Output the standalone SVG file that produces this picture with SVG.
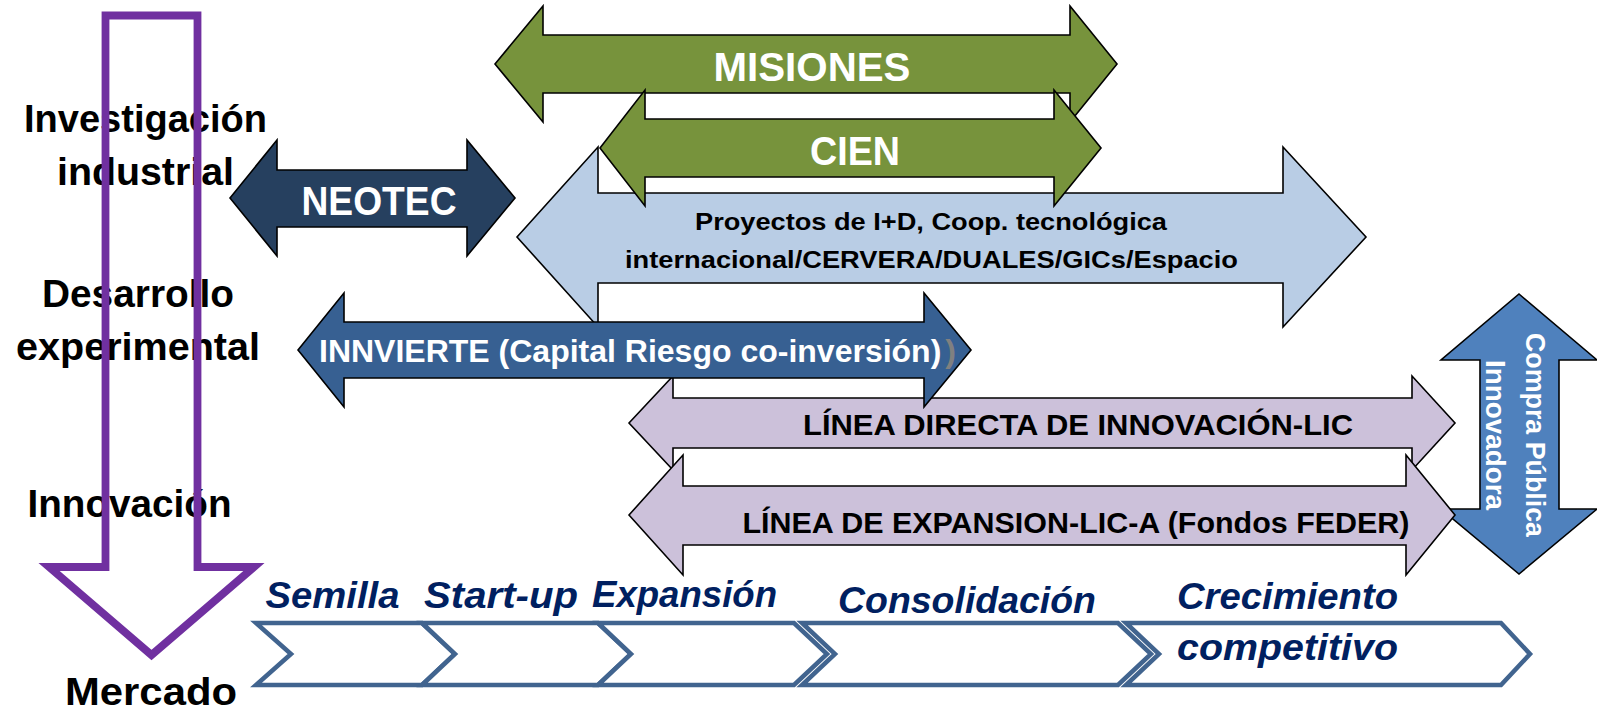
<svg xmlns="http://www.w3.org/2000/svg" width="1597" height="710" viewBox="0 0 1597 710">
<style>
.arr{stroke:#000;stroke-width:1.6;stroke-linejoin:miter}
.green{fill:#77933C}
.navy{fill:#26405F}
.lblue{fill:#B9CDE5}
.mblue{fill:#376092}
.lilac{fill:#CCC1DA}
.cblue{fill:#4F81BD}
.lbl{font-family:"Liberation Sans",Arial,sans-serif;font-weight:bold;fill:#000;font-size:39px;text-anchor:middle}
.wt{font-family:"Liberation Sans",Arial,sans-serif;font-weight:bold;fill:#fff;text-anchor:middle}
.bt{font-family:"Liberation Sans",Arial,sans-serif;font-weight:bold;fill:#000;text-anchor:middle}
.stage{font-family:"Liberation Sans",Arial,sans-serif;font-weight:bold;font-style:italic;fill:#002060;font-size:36px}
.chev{fill:#fff;stroke:#41648F;stroke-width:4.5;stroke-linejoin:miter}
</style>
<rect width="1597" height="710" fill="#fff"/>

<g id="labels">
<text class="lbl" x="145.5" y="132" textLength="243" lengthAdjust="spacingAndGlyphs">Investigación</text>
<text class="lbl" x="145.5" y="185" textLength="177" lengthAdjust="spacingAndGlyphs">industrial</text>
<text class="lbl" x="138" y="307" textLength="192" lengthAdjust="spacingAndGlyphs">Desarrollo</text>
<text class="lbl" x="138" y="360" textLength="244" lengthAdjust="spacingAndGlyphs">experimental</text>
<text class="lbl" x="129.5" y="517" textLength="204" lengthAdjust="spacingAndGlyphs">Innovación</text>
<text class="lbl" x="151" y="705" textLength="172" lengthAdjust="spacingAndGlyphs">Mercado</text>
</g>

<g id="purple-arrow">
<polygon points="105.5,15.5 197.5,15.5 197.5,567 254,567 151.5,655 49,567 105.5,567" fill="none" stroke="#7030A0" stroke-width="7.8" stroke-linejoin="miter"/>
</g>

<g id="stages">
<polygon class="chev" points="256,623 422,623 455,654 422,685 256,685 291,654"/>
<polygon class="chev" points="422,623 598,623 631,654 598,685 422,685 455,654"/>
<polygon class="chev" points="598,623 794,623 827,654 794,685 598,685 631,654"/>
<polygon class="chev" points="802,623 1118,623 1151,654 1118,685 802,685 835,654"/>
<polygon class="chev" points="1126,623 1501,623 1530,654 1501,685 1126,685 1159,654"/>
<text class="stage" x="265.5" y="608" textLength="134" lengthAdjust="spacingAndGlyphs">Semilla</text>
<text class="stage" x="424" y="608" textLength="154" lengthAdjust="spacingAndGlyphs">Start-up</text>
<text class="stage" x="592" y="607" textLength="185" lengthAdjust="spacingAndGlyphs">Expansión</text>
<text class="stage" x="838" y="613" textLength="258" lengthAdjust="spacingAndGlyphs">Consolidación</text>
<text class="stage" x="1177" y="609" textLength="221" lengthAdjust="spacingAndGlyphs">Crecimiento</text>
<text class="stage" x="1177" y="660" textLength="221" lengthAdjust="spacingAndGlyphs">competitivo</text>
</g>

<g id="misiones">
<polygon class="arr green" points="495,64 543,6 543,35 1070,35 1070,6 1117,64 1070,122 1070,93 543,93 543,122"/>
<text class="wt" x="812" y="81" font-size="40" textLength="197" lengthAdjust="spacingAndGlyphs">MISIONES</text>
</g>

<g id="proyectos">
<polygon class="arr lblue" points="517,237 598,147 598,193 1283,193 1283,147 1366,237 1283,327 1283,283 598,283 598,327"/>
<text class="bt" x="931" y="230" font-size="24" textLength="472" lengthAdjust="spacingAndGlyphs">Proyectos de I+D, Coop. tecnológica</text>
<text class="bt" x="931.5" y="268" font-size="24" textLength="613" lengthAdjust="spacingAndGlyphs">internacional/CERVERA/DUALES/GICs/Espacio</text>
</g>

<g id="cien">
<polygon class="arr green" points="600,148 645,90 645,119 1054,119 1054,90 1101,148 1054,206 1054,177 645,177 645,206"/>
<text class="wt" x="855" y="165" font-size="40" textLength="90" lengthAdjust="spacingAndGlyphs">CIEN</text>
</g>

<g id="neotec">
<polygon class="arr navy" points="230,198 277,140 277,170 467,170 467,140 515,198 467,256 467,227 277,227 277,256"/>
<text class="wt" x="379" y="215" font-size="40" textLength="155" lengthAdjust="spacingAndGlyphs">NEOTEC</text>
</g>

<g id="compra">
<polygon class="arr cblue" points="1519,294 1597,360 1559,360 1559,509 1597,509 1519,574 1441,509 1480,509 1480,360 1441,360"/>
<text class="wt" font-size="27" transform="translate(1526,435) rotate(90)" textLength="204" lengthAdjust="spacingAndGlyphs">Compra Pública</text>
<text class="wt" font-size="27" transform="translate(1486,435) rotate(90)" textLength="150" lengthAdjust="spacingAndGlyphs">Innovadora</text>
</g>

<g id="linea-directa">
<polygon class="arr lilac" points="629,423 673,376 673,398 1412,398 1412,376 1455,423 1412,470 1412,448 673,448 673,470"/>
<text class="bt" x="1078" y="435" font-size="30" textLength="550" lengthAdjust="spacingAndGlyphs">LÍNEA DIRECTA DE INNOVACIÓN-LIC</text>
</g>

<g id="innvierte">
<polygon class="arr mblue" points="298,350 344,293 344,322 924,322 924,293 971,350 924,407 924,378 344,378 344,407"/>
<text x="319" y="362" font-size="32" font-family="Liberation Sans, Arial, sans-serif" font-weight="bold" fill="#fff">INNVIERTE (Capital Riesgo co-inversión)<tspan fill="#808080" dx="4">)</tspan></text>
</g>

<g id="linea-expansion">
<polygon class="arr lilac" points="629,515 683,455 683,486 1406,486 1406,455 1455,515 1406,575 1406,545 683,545 683,575"/>
<text class="bt" x="1076" y="533" font-size="30" textLength="667" lengthAdjust="spacingAndGlyphs">LÍNEA DE EXPANSION-LIC-A (Fondos FEDER)</text>
</g>
</svg>
